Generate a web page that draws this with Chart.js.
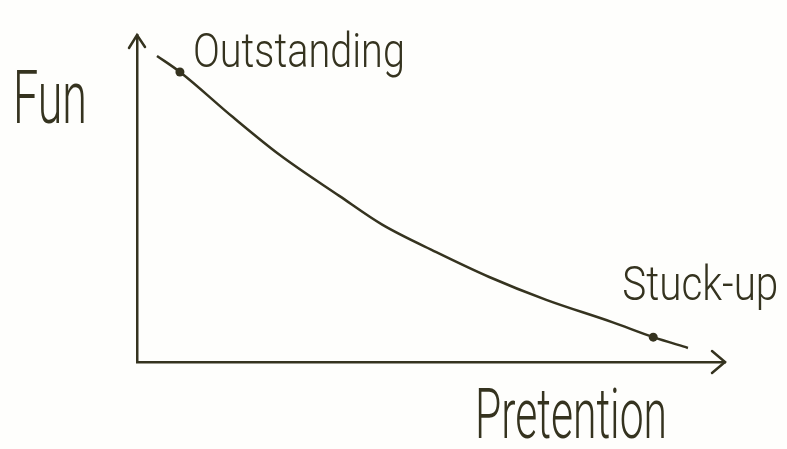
<!DOCTYPE html>
<html>
<head>
<meta charset="utf-8">
<script src="https://cdn.jsdelivr.net/npm/chart.js@4"></script>
<style>
  html, body { margin: 0; padding: 0; background: #fefefc; }
  #wrap { width: 787px; height: 449px; }
</style>
</head>
<body>
<div id="wrap"><canvas id="funChart"></canvas></div>
<script>
// curve (x = pretention, y = fun, both 0..100)
const curveX = [3.4, 7.3, 16.3, 24.3, 34.4, 41.7, 50.9, 59.9, 69.6, 80.8, 87.8, 93.7];
const curveY = [93.6, 88.7, 74.9, 63.3, 50.8, 42.0, 33.6, 26.0, 19.0, 12.2, 7.6, 4.3];

// the two marked dots and their names
const markNames = ["Outstanding", "Stuck-up"];
const markX = [7.3, 87.8];
const markY = [88.7, 7.6];

const xAxisName = "Pretention";
const yAxisName = "Fun";

const ink = "#35331f";
const handFont = "Roboto, 'Liberation Sans Narrow', sans-serif";

// draw text at a given size, squeezed to a given width (hand lettering is tall and narrow)
function drawSqueezed(ctx, text, x, baseline, size, width) {
    ctx.save();
    ctx.font = "300 " + size + "px " + handFont;
    const w = ctx.measureText(text).width;
    ctx.translate(x, baseline);
    ctx.scale(width / w, 1);
    ctx.fillStyle = ink;
    ctx.textBaseline = "alphabetic";
    ctx.fillText(text, 0, 0);
    ctx.restore();
}

const sketchPlugin = {
    id: "sketch",
    afterDatasetsDraw(chart) {
        const ctx = chart.ctx;
        const area = chart.chartArea;

        // arrow heads on the axes
        ctx.save();
        ctx.strokeStyle = ink;
        ctx.lineWidth = 2.5;
        ctx.lineCap = "round";
        ctx.beginPath();
        ctx.moveTo(area.left - 8, area.top + 13);
        ctx.lineTo(area.left, area.top);
        ctx.lineTo(area.left + 8, area.top + 12);
        ctx.moveTo(area.right - 13, area.bottom - 11);
        ctx.lineTo(area.right, area.bottom);
        ctx.lineTo(area.right - 13, area.bottom + 11);
        ctx.stroke();
        ctx.restore();

        // axis names
        drawSqueezed(ctx, yAxisName, 13, area.top + 88, 74, 74);
        drawSqueezed(ctx, xAxisName, area.left + 338, area.bottom + 76, 71, 192);

        // names next to the dots
        const dots = chart.getDatasetMeta(1).data;
        drawSqueezed(ctx, markNames[0], dots[0].x + 13, dots[0].y - 5, 49, 212);
        drawSqueezed(ctx, markNames[1], dots[1].x - 31, dots[1].y - 37, 49, 156);
    }
};

new Chart(document.getElementById("funChart"), {
    type: "line",
    data: {
        datasets: [{
            label: "curve",
            data: curveX.map((x, i) => ({ x: x, y: curveY[i] })),
            borderColor: ink,
            borderWidth: 2.5,
            pointRadius: 0,
            cubicInterpolationMode: "monotone",
            fill: false
        }, {
            label: "marks",
            data: markX.map((x, i) => ({ x: x, y: markY[i] })),
            showLine: false,
            pointRadius: 4.5,
            pointBackgroundColor: ink,
            pointBorderColor: ink,
            pointBorderWidth: 0
        }]
    },
    options: {
        responsive: true,
        maintainAspectRatio: false,
        animation: false,
        layout: {
            padding: { left: 137, right: 62, top: 35, bottom: 87 }
        },
        plugins: {
            legend: { display: false },
            tooltip: { enabled: false }
        },
        scales: {
            x: {
                type: "linear",
                min: 0,
                max: 100,
                grid: { display: false, drawTicks: false },
                ticks: { display: false },
                border: { display: true, color: ink, width: 2.5 }
            },
            y: {
                type: "linear",
                min: 0,
                max: 100,
                grid: { display: false, drawTicks: false },
                ticks: { display: false },
                border: { display: true, color: ink, width: 2.5 }
            }
        }
    },
    plugins: [sketchPlugin]
});
</script>
</body>
</html>
